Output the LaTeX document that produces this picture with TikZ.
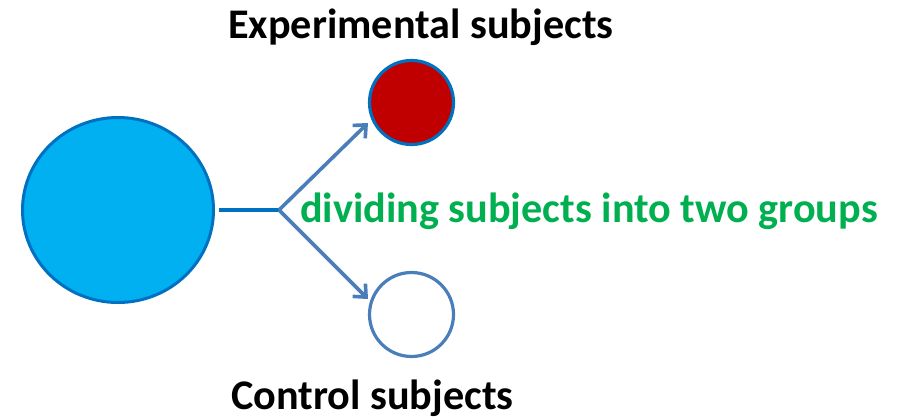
\documentclass[tikz,border=0pt]{standalone}
\usepackage{fontspec}
\setmainfont{Carlito}
\usetikzlibrary{arrows.meta,shapes.geometric}
\definecolor{bigfill}{HTML}{00B0F0}
\definecolor{bigline}{HTML}{0070C0}
\definecolor{redfill}{HTML}{C00000}
\definecolor{arrowc}{HTML}{4A7EBB}
\definecolor{greentxt}{HTML}{00B050}
\begin{document}
\begin{tikzpicture}[x=1pt,y=-1pt,
  lbl/.style={font=\fontsize{42.2}{50}\selectfont\bfseries, inner sep=0pt},
  arr/.style={draw=arrowc, line width=3.6pt, -{Straight Barb[length=10pt,width=18pt,line width=3.6pt]}}]
\useasboundingbox (0,0) rectangle (912,418);
\fill[white] (0,0) rectangle (912,418);
\node[ellipse, draw=bigline, fill=bigfill, line width=3pt, minimum width=191pt, minimum height=185pt, inner sep=0pt] (big) at (118,210) {};
\node[circle, draw=bigline, fill=redfill, line width=3.2pt, minimum size=84pt, inner sep=0pt] (exp) at (411.5,102.5) {};
\node[circle, draw=arrowc, fill=white, line width=3.2pt, minimum size=84pt, inner sep=0pt] (ctl) at (411.5,314.5) {};
\coordinate (start) at (219,210);
\coordinate (fork) at (279,210);
\coordinate (tipup) at (368,123);
\coordinate (tipdn) at (368,299);
\draw[bigline, line width=4pt] (start) -- (fork);
\draw[arr] (fork) -- (tipup);
\draw[arr] (fork) -- (tipdn);
\node[lbl, anchor=base] (explbl) at (421,38) {Experimental subjects};
\node[lbl, anchor=base] (ctllbl) at (372.5,409) {Control subjects};
\node[lbl, anchor=base west, text=greentxt] (divlbl) at (300,222) {dividing subjects into two groups};
\end{tikzpicture}
\end{document}
